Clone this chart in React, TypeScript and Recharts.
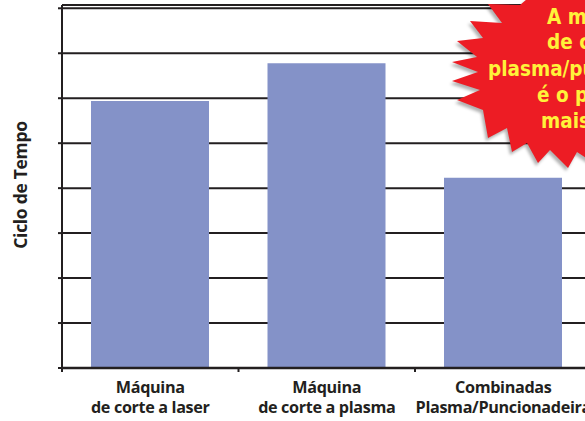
import React from 'react';
import { BarChart, Bar, XAxis, YAxis, CartesianGrid, Label } from 'recharts';

const categoryLine1 = ['Máquina', 'Máquina', 'Combinadas'];
const categoryLine2 = ['de corte a laser', 'de corte a plasma', 'Plasma/Puncionadeira'];
const cycleTime = [5.94, 6.78, 4.23];
const yTicks = [0, 1, 2, 3, 4, 5, 6, 7, 8];
const yAxisTitle = 'Ciclo de Tempo';
const badgeLines = ['A máquina', 'de corte a', 'plasma/puncionadeira', 'é o processo', 'mais rápido!'];

const data = categoryLine1.map((c, i) => ({
  key: `${c} ${categoryLine2[i]}`,
  l1: c,
  l2: categoryLine2[i],
  value: cycleTime[i],
}));

const INK = '#231f20';
const FONT = "'Open Sans', 'Noto Sans', sans-serif";

const CategoryTick = (props: any) => {
  const { x, y, index, payload } = props;
  const off = payload && typeof payload.offset === 'number' ? payload.offset : 0;
  return (
    <g>
      {off > 0 && <line x1={x - off} x2={x - off} y1={y} y2={y + 4} stroke={INK} strokeWidth={2} />}
      <text x={x} y={y} textAnchor="middle" fill={INK} fontFamily={FONT} fontWeight={700} fontSize={16.2} letterSpacing={-0.35}>
        <tspan x={x} dy={25}>{categoryLine1[index]}</tspan>
        <tspan x={x} dy={20}>{categoryLine2[index]}</tspan>
      </text>
    </g>
  );
};

// decorative starburst outline (annotation, not data)
const starOutline: [number, number][] = [
  [620, -12], [540, -12], [520, 5], [488, 4], [502, 23], [470, 21], [483, 38], [457, 41],
  [477, 57], [452, 62], [478, 72], [452, 81], [480, 90], [457, 100], [483, 110], [488, 138],
  [507, 128], [512, 152], [527, 143], [538, 163], [550, 150], [568, 168], [577, 152],
  [598, 166], [620, 160],
];
const badgeLineX = [547, 547, 488, 537, 541];
const badgeLineY = [24, 49, 76, 102, 128];

const Starburst = () => {
  const pts = starOutline.map((p) => p.join(',')).join(' ');
  return (
    <svg width={585} height={421} style={{ position: 'absolute', left: 0, top: 0, pointerEvents: 'none' }}>
      <defs>
        <filter id="sh" x="-20%" y="-20%" width="140%" height="140%">
          <feGaussianBlur stdDeviation="1.5" />
        </filter>
      </defs>
      <polygon points={pts} fill="rgba(0,0,0,0.3)" transform="translate(-2,3)" filter="url(#sh)" />
      <polygon points={pts} fill="#ed1c24" />
      {badgeLines.map((t, i) => (
        <text
          key={i}
          x={badgeLineX[i]}
          y={badgeLineY[i]}
          fill="#fff23a"
          fontFamily="'Liberation Sans Narrow', 'DejaVu Sans Condensed', 'DejaVu Sans', sans-serif"
          fontStretch="condensed"
          fontWeight={700}
          fontSize={20.5}
        >
          {t}
        </text>
      ))}
    </svg>
  );
};

export default function App() {
  return (
    <div style={{ position: 'absolute', left: 0, top: 0, width: 585, height: 421, overflow: 'hidden', background: '#fff' }}>
      <BarChart width={610} height={421} data={data} margin={{ top: 5, right: 18.5, bottom: 0, left: 0 }} barSize={118}>
        <CartesianGrid vertical={false} stroke={INK} strokeWidth={2} strokeOpacity={1} />
        <XAxis
          dataKey="key"
          height={53}
          interval={0}
          tickSize={0}
          tickMargin={0}
          tickLine={false}
          axisLine={{ stroke: INK, strokeWidth: 2.5 }}
          tick={<CategoryTick />}
        />
        <YAxis
          width={62}
          domain={[0, 8.073]}
          ticks={yTicks}
          interval={0}
          allowDataOverflow
          tickSize={4}
          tickFormatter={() => ''}
          axisLine={{ stroke: INK, strokeWidth: 2 }}
          tickLine={{ stroke: INK, strokeWidth: 2 }}
        >
          <Label
            content={() => (
              <text
                transform="translate(20,185) rotate(-90)"
                textAnchor="middle"
                dominantBaseline="central"
                fill={INK}
                fontFamily={FONT}
                fontWeight={700}
                fontSize={17.5}
                letterSpacing={-0.3}
              >
                {yAxisTitle}
              </text>
            )}
          />
        </YAxis>
        <Bar dataKey="value" fill="#8492c8" isAnimationActive={false} />
      </BarChart>
      <Starburst />
    </div>
  );
}
